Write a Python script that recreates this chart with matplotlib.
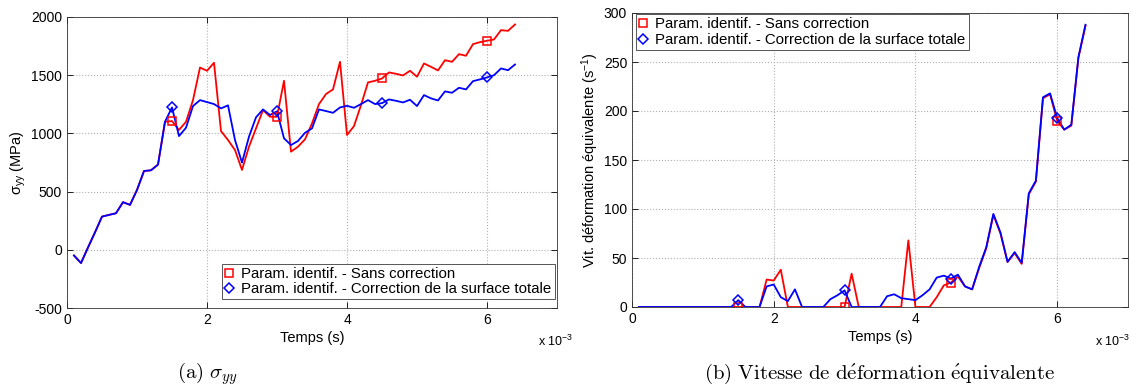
import numpy as np
import matplotlib
matplotlib.use("Agg")
import matplotlib.pyplot as plt

plt.rcParams['font.family'] = ['Liberation Sans', 'DejaVu Sans']
plt.rcParams['mathtext.fontset'] = 'cm'
plt.rcParams['axes.unicode_minus'] = False

# time axis, in units of 1e-3 s
t = np.round(np.arange(1, 65) * 0.1, 1)

# sigma_yy (MPa)
sig_sans = [-49, -114, 20, 150, 285, 300, 314, 409, 386, 514,
            677, 683, 732, 1100, 1106, 1029, 1100, 1286, 1566, 1538,
            1607, 1020, 943, 857, 686, 886, 1043, 1200, 1143, 1143,
            1452, 843, 886, 949, 1086, 1252, 1338, 1378, 1615, 986,
            1063, 1243, 1438, 1452, 1472, 1524, 1512, 1498, 1538, 1487,
            1601, 1572, 1541, 1629, 1615, 1681, 1667, 1767, 1784, 1796,
            1807, 1887, 1881, 1936]
sig_corr = [-49, -114, 20, 150, 285, 300, 314, 409, 386, 514,
            677, 683, 732, 1100, 1223, 977, 1049, 1235, 1286, 1269,
            1252, 1215, 1241, 943, 749, 972, 1138, 1206, 1158, 1190,
            958, 900, 935, 1005, 1043, 1206, 1192, 1177, 1223, 1237,
            1220, 1252, 1286, 1252, 1260, 1292, 1280, 1266, 1289, 1235,
            1329, 1301, 1283, 1361, 1349, 1392, 1378, 1449, 1464, 1481,
            1500, 1558, 1543, 1592]

# equivalent strain rate (1/s)
vit_sans = [0, 0, 0, 0, 0, 0, 0, 0, 0, 0,
            0, 0, 0, 0, 0, 0, 0, 0, 28, 27,
            38, 0, 0, 0, 0, 0, 0, 0, 0, 0,
            34, 0, 0, 0, 0, 0, 0, 0, 68, 0,
            0, 0, 10, 22, 25, 31, 21, 18, 40, 60,
            94, 75, 46, 55, 44, 115, 128, 213, 217, 190,
            181, 185, 254, 287]
vit_corr = [0, 0, 0, 0, 0, 0, 0, 0, 0, 0,
            0, 0, 0, 0, 7, 0, 0, 0, 21, 23,
            10, 6, 18, 0, 0, 0, 0, 8, 12, 17,
            0, 0, 0, 0, 0, 11, 13, 9, 8, 7,
            12, 18, 30, 32, 29, 33, 21, 18, 41, 61,
            95, 76, 46, 56, 45, 116, 129, 214, 218, 193,
            181, 186, 255, 288]

idx_mk = [14, 29, 44, 59]  # markers every 1.5e-3 s

lab_sans = "Param. identif. - Sans correction"
lab_corr = "Param. identif. - Correction de la surface totale"

fig = plt.figure(figsize=(11.32, 3.89), dpi=100)
ax1 = fig.add_axes([67/1132, 1-308/389, 490/1132, 291/389])
ax2 = fig.add_axes([632/1132, 1-307/389, 496/1132, 294/389])


def draw(ax, ys, yc):
    ys = np.array(ys)
    yc = np.array(yc)
    ax.plot(t, ys, color='red', lw=1.3)
    ax.plot(t, yc, color='blue', lw=1.3)
    ax.plot(t[idx_mk], ys[idx_mk], ls='none', marker='s', ms=5.5,
            mfc='none', mec='red', mew=1.1, label=lab_sans)
    ax.plot(t[idx_mk], yc[idx_mk], ls='none', marker='D', ms=4.8,
            mfc='none', mec='blue', mew=1.1, label=lab_corr)
    ax.set_xlim(0, 7)
    ax.set_xticks([0, 2, 4, 6])
    ax.grid(True, ls=':', color='#b0b0b0', lw=0.8)
    ax.tick_params(direction='in', top=True, right=True, labelsize=10,
                   length=4, width=0.6)
    for s in ax.spines.values():
        s.set_linewidth(0.6)
        s.set_color('#333333')
    ax.set_xlabel("Temps (s)", fontsize=10.5, labelpad=3)


def legend(ax, **kw):
    leg = ax.legend(fontsize=10.8, handlelength=0.6, handletextpad=0.5,
                    borderpad=0.2, labelspacing=0.1, fancybox=False,
                    framealpha=1, edgecolor='#555555', borderaxespad=0, **kw)
    leg.get_frame().set_linewidth(0.7)


draw(ax1, sig_sans, sig_corr)
ax1.set_ylim(-500, 2000)
ax1.set_yticks(np.arange(-500, 2001, 500))
ax1.set_ylabel(r"$\mathregular{\sigma_{yy}}$ (MPa)", fontsize=10.5, labelpad=2)
legend(ax1, loc='lower right', bbox_to_anchor=(0.995, 0.03))

draw(ax2, vit_sans, vit_corr)
ax2.set_ylim(0, 300)
ax2.set_yticks(np.arange(0, 301, 50))
ax2.set_ylabel(r"Vit. déformation équivalente (s$\mathregular{^{-1}}$)",
               fontsize=10.5, labelpad=2)
legend(ax2, loc='upper left', bbox_to_anchor=(0.008, 0.995))

# exponent labels under the x axes
fig.text(538/1132, 1-341/389, r"x 10$\mathregular{^{-3}}$", fontsize=9,
         ha='left', va='center')
fig.text(1130/1132, 1-341/389, r"x 10$\mathregular{^{-3}}$", fontsize=9,
         ha='right', va='center')

# subfigure captions
fig.text(207/1132, 1-374/389, r"$\mathrm{(a)}\ \sigma_{yy}$", fontsize=15,
         ha='center', va='center')
fig.text(880/1132, 1-374/389,
         r"$\mathrm{(b)\ Vitesse\ de\ d\acute{e}formation\ \acute{e}quivalente}$",
         fontsize=15, ha='center', va='center')

fig.savefig("out.png", dpi=100)
